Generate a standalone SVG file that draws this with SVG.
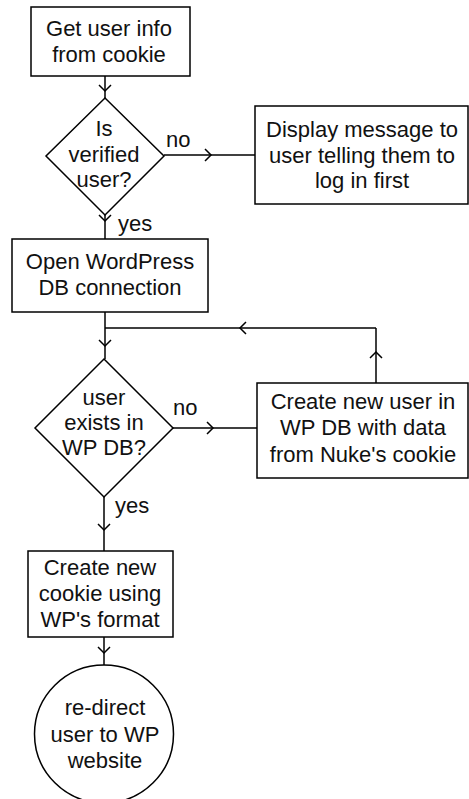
<svg xmlns="http://www.w3.org/2000/svg" width="469" height="799" viewBox="0 0 469 799">
<defs>
<style>
.shape{fill:#fff;stroke:#000;stroke-width:1.5}
.conn{fill:none;stroke:#000;stroke-width:1.5;marker-mid:url(#chev)}
text{font-family:"Liberation Sans",Arial,sans-serif;font-size:22px;fill:#111;text-anchor:middle}
.lbl{text-anchor:start}
</style>
<marker id="chev" markerUnits="userSpaceOnUse" markerWidth="16" markerHeight="16" refX="8" refY="8" viewBox="0 0 16 16" orient="auto" overflow="visible">
<path d="M2,2 L8,8 L2,14" fill="none" stroke="#000" stroke-width="1.5"/>
</marker>
</defs>
<rect width="469" height="799" fill="#fff"/>
<g id="connectors">
<path class="conn" d="M105,76 L105,91 L105,98"/>
<path class="conn" d="M164,155 L211,155 L255,155"/>
<path class="conn" d="M105,215 L105,221 L105,239"/>
<path class="conn" d="M105,312 L105,346 L105,359"/>
<path class="conn" d="M173,428 L213,428 L257,428"/>
<path class="conn" d="M376,383 L376,352 L376,328"/>
<path class="conn" d="M376,328 L240,328 L105,328"/>
<path class="conn" d="M104,497 L104,530 L104,551"/>
<path class="conn" d="M104,637 L104,653 L104,665"/>
<text class="lbl" x="166" y="147">no</text>
<text class="lbl" x="118" y="231">yes</text>
<text class="lbl" x="173" y="415">no</text>
<text class="lbl" x="115" y="513">yes</text>
</g>
<g id="n1">
<rect class="shape" x="31" y="7" width="159" height="69"/>
<text x="109" y="36">Get user info</text>
<text x="109" y="62">from cookie</text>
</g>
<g id="n2">
<polygon class="shape" points="105,98 164,156 105,215 46,156"/>
<text x="104" y="136">Is</text>
<text x="104" y="162">verified</text>
<text x="104" y="187">user?</text>
</g>
<g id="n3">
<rect class="shape" x="255" y="106" width="213" height="98"/>
<text x="362" y="137">Display message to</text>
<text x="362" y="163">user telling them to</text>
<text x="362" y="188">log in first</text>
</g>
<g id="n4">
<rect class="shape" x="12" y="239" width="196" height="73"/>
<text x="110" y="269">Open WordPress</text>
<text x="110" y="295">DB connection</text>
</g>
<g id="n5">
<polygon class="shape" points="104,359 173,428 104,497 35,428"/>
<text x="104" y="405">user</text>
<text x="104" y="430">exists in</text>
<text x="104" y="455">WP DB?</text>
</g>
<g id="n6">
<rect class="shape" x="257" y="383" width="211" height="95"/>
<text x="363" y="409">Create new user in</text>
<text x="363" y="435">WP DB with data</text>
<text x="363" y="462">from Nuke's cookie</text>
</g>
<g id="n7">
<rect class="shape" x="28" y="551" width="145" height="86"/>
<text x="100" y="575">Create new</text>
<text x="100" y="601">cookie using</text>
<text x="100" y="627">WP's format</text>
</g>
<g id="n8">
<ellipse class="shape" cx="104" cy="734" rx="69.5" ry="69"/>
<text x="105" y="715">re-direct</text>
<text x="105" y="742">user to WP</text>
<text x="105" y="768">website</text>
</g>
</svg>
